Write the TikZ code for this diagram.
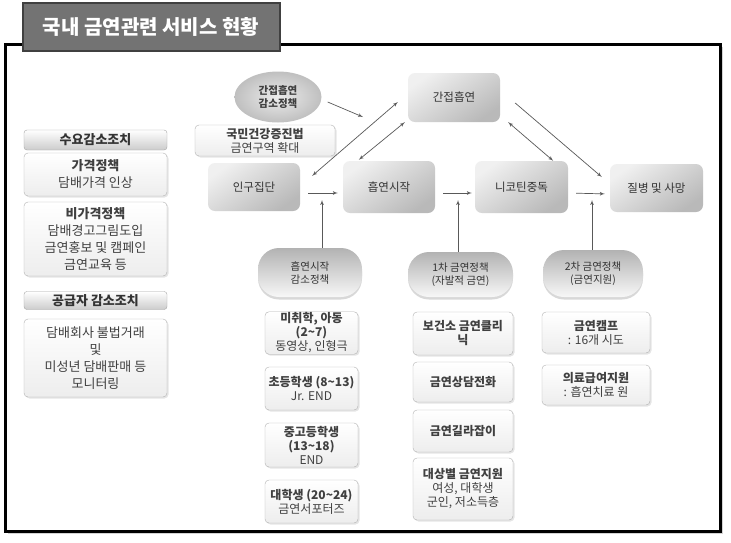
\documentclass[tikz,border=0pt]{standalone}
\usepackage{fontspec}
\setmainfont{Noto Sans CJK KR}
\usetikzlibrary{arrows,shapes.geometric,shadows,positioning,calc}
\tikzstyle{frame} = [draw=black, line width=3pt, fill=white,
    drop shadow={opacity=0.35, shadow xshift=2.5pt, shadow yshift=-2.5pt}]
\tikzstyle{titletab} = [draw=black!75, line width=2pt, fill=black!55,
    text=white, font=\fontsize{20}{22}\selectfont\bfseries]
\tikzstyle{hblock} = [draw=gray!70, rectangle, rounded corners=3pt,
    top color=white, bottom color=gray!40, text=black!80,
    font=\fontsize{13}{17}\selectfont]
\tikzstyle{wblock} = [draw=gray!60, rectangle, rounded corners=4pt,
    top color=white, bottom color=gray!14, text=black!75,
    drop shadow={opacity=0.2, shadow xshift=1.5pt, shadow yshift=-1.5pt}]
\tikzstyle{gblock} = [rectangle, rounded corners=7pt, text=black!80,
    top color=gray!12, bottom color=gray!55, shading angle=35,
    font=\fontsize{11.5}{13}\selectfont]
\tikzstyle{pill} = [rectangle, rounded corners=21pt, text=black!80,
    top color=gray!60, bottom color=gray!6,
    drop shadow={opacity=0.3, shadow xshift=0pt, shadow yshift=-2.5pt},
    font=\fontsize{10.5}{13}\selectfont]
\tikzstyle{conn} = [draw=black!65, line width=0.7pt]

\begin{document}
\begin{tikzpicture}[x=1pt, y=-1pt, >=latex',
    every node/.style={inner sep=1pt, align=center, text centered}]
\useasboundingbox (0,0) rectangle (731,542);

\draw[frame] (5.5,44) rectangle (720,531);
\node (title) [titletab, minimum width=257pt, minimum height=48pt] at (151,27) {국내 금연관련 서비스 현황};

% left column
\node (dhead) [hblock, minimum width=143pt, minimum height=20pt] at (95.5,140) {\textbf{수요감소조치}};
\node (price) [wblock, minimum width=143pt, minimum height=43pt, font=\fontsize{13}{17}\selectfont] at (95.5,174.5) {\textbf{가격정책}\\담배가격 인상};
\node (nonprice) [wblock, minimum width=143pt, minimum height=74pt, font=\fontsize{13}{17}\selectfont] at (95.5,239) {\textbf{비가격정책}\\담배경고그림도입\\금연홍보 및 캠페인\\금연교육 등};
\node (shead) [hblock, minimum width=143pt, minimum height=18pt] at (95.5,300.5) {\textbf{공급자 감소조치}};
\node (supply) [wblock, minimum width=143pt, minimum height=78pt, font=\fontsize{13}{17}\selectfont] at (95.5,358) {담배회사 불법거래\\및\\미성년 담배판매 등\\모니터링};

% flow
\node (smokepol) [ellipse, inner color=gray!15, outer color=gray!50, text=black!75,
    minimum width=87pt, minimum height=51pt, font=\fontsize{10.5}{13}\selectfont\bfseries] at (278,97) {간접흡연\\감소정책};
\node (law) [wblock, minimum width=140pt, minimum height=31pt, font=\fontsize{12}{14}\selectfont] at (265,140.5) {\textbf{국민건강증진법}\\금연구역 확대};
\node (passive) [gblock, minimum width=92pt, minimum height=49pt] at (454,97.5) {간접흡연};
\node (pop) [gblock, minimum width=92pt, minimum height=48pt] at (254,187) {인구집단};
\node (start) [gblock, minimum width=92pt, minimum height=52pt] at (389,187) {흡연시작};
\node (nic) [gblock, minimum width=93pt, minimum height=52pt] at (521.5,187) {니코틴중독};
\node (death) [gblock, minimum width=93pt, minimum height=48pt] at (656.5,188) {질병 및 사망};

\coordinate (e1) at (363,117);
\coordinate (v1) at (322,200);
\coordinate (v2) at (458,200);
\coordinate (v3) at (592,200);

\draw[conn,->,shorten <=8pt,shorten >=5pt] ([yshift=-6pt]pop.east) -- ([yshift=-6pt]start.west);
\draw[conn,->,shorten <=8pt,shorten >=3pt] ([yshift=-6pt]start.east) -- ([yshift=-6pt]nic.west);
\draw[conn,->,shorten <=8pt,shorten >=5pt] ([yshift=-6pt]nic.east) -- ([yshift=-6pt]death.west);

\draw[conn,->] ($(smokepol.east)+(6,5)$) -- (e1);
\draw[conn,<->] ($(pop.north east)+(12,13)$) -- ($(passive.west)+(-10,4.5)$);
\draw[conn,<->] ($(start.north west)+(16,-1)$) -- ($(passive.south west)+(-3,0)$);
\draw[conn,<->] ($(passive.south east)+(8,0)$) -- ($(nic.north east)+(-15,0)$);
\draw[conn,->] ($(passive.east)+(15,5.5)$) -- ($(death.west)+(-8,-11)$);

% policies
\node (p1) [pill, minimum width=104pt, minimum height=49pt] at (310,272.5) {흡연시작\\감소정책};
\node (p2) [pill, minimum width=105pt, minimum height=45pt] at (460.5,274.5) {1차 금연정책\\(자발적 금연)};
\node (p3) [pill, minimum width=100pt, minimum height=47pt] at (593,273.5) {2차 금연정책\\(금연지원)};

\draw[conn,->] (p1.north -| v1) -- (v1);
\draw[conn,->] (p2.north -| v2) -- (v2);
\draw[conn,->] (p3.north -| v3) -- (v3);

\tikzset{every node/.append style={font=\fontsize{12}{14}\selectfont}}
\node (k1) [wblock, minimum width=93pt, minimum height=42pt] at (311.5,333) {\textbf{미취학, 아동}\\\textbf{(2\textasciitilde7)}\\동영상, 인형극};
\node (k2) [wblock, minimum width=93pt, minimum height=43pt] at (311.5,388.5) {\textbf{초등학생 (8\textasciitilde13)}\\Jr. END};
\node (k3) [wblock, minimum width=93pt, minimum height=44pt] at (311.5,445) {\textbf{중고등학생}\\\textbf{(13\textasciitilde18)}\\END};
\node (k4) [wblock, minimum width=93pt, minimum height=43pt] at (311.5,501.5) {\textbf{대학생 (20\textasciitilde24)}\\금연서포터즈};

\node (c1) [wblock, minimum width=100pt, minimum height=43pt] at (463,333.5) {\textbf{보건소 금연클리}\\\textbf{닉}};
\node (c2) [wblock, minimum width=100pt, minimum height=40pt] at (463,382) {\textbf{금연상담전화}};
\node (c3) [wblock, minimum width=100pt, minimum height=42pt] at (463,431) {\textbf{금연길라잡이}};
\node (c4) [wblock, minimum width=100pt, minimum height=62pt] at (463,489) {\textbf{대상별 금연지원}\\여성, 대학생\\군인, 저소득층};

\node (s1) [wblock, minimum width=108pt, minimum height=41pt] at (596,332.5) {\textbf{금연캠프}\\: 16개 시도};
\node (s2) [wblock, minimum width=108pt, minimum height=40pt] at (596,385) {\textbf{의료급여지원}\\: 흡연치료 원};

\end{tikzpicture}
\end{document}
